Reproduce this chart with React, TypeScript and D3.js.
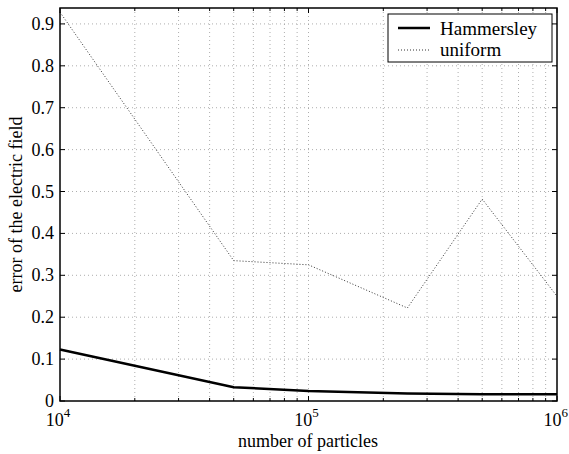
import React from "react";
import * as d3 from "d3";

const particles = [1e4, 5e4, 1e5, 2.5e5, 5e5, 1e6];
const hammersley = [0.123, 0.033, 0.024, 0.018, 0.016, 0.016];
const uniform = [0.928, 0.335, 0.325, 0.222, 0.482, 0.25];
const yTicks = [0, 0.1, 0.2, 0.3, 0.4, 0.5, 0.6, 0.7, 0.8, 0.9];
const xMajor = [1e4, 1e5, 1e6];
const seriesNames = ["Hammersley", "uniform"];

const W = 569, H = 454;
const L = 60, R = 557, T = 8, B = 401;
const TS = { fontFamily: "Liberation Serif" };

export default function App() {
  const x = d3.scaleLog().domain([1e4, 1e6]).range([L, R]);
  const y = d3.scaleLinear().domain([0, 0.938]).range([B, T]);
  const minor: number[] = [];
  for (let e = 4; e < 6; e++) for (let m = 2; m <= 9; m++) minor.push(m * Math.pow(10, e));
  const line = d3.line<number>().x((_, i) => x(particles[i])).y((d) => y(d));
  const gridStyle = { stroke: "#999", strokeWidth: 0.8, strokeDasharray: "1,3" };
  return (
    <svg width={W} height={H} style={{ position: "absolute", left: 0, top: 0, background: "#fff" }}>
      <rect x={0} y={0} width={W} height={H} fill="#fff" />
      {yTicks.slice(1).map((t) => (
        <line key={"gy" + t} x1={L} x2={R} y1={y(t)} y2={y(t)} {...gridStyle} />
      ))}
      {[...minor, 1e5].map((t) => (
        <line key={"gx" + t} x1={x(t)} x2={x(t)} y1={T} y2={B} {...gridStyle} />
      ))}
      {yTicks.map((t) => (
        <g key={"ty" + t}>
          <line x1={L} x2={L + 5} y1={y(t)} y2={y(t)} stroke="#000" strokeWidth={1} />
          <line x1={R} x2={R - 5} y1={y(t)} y2={y(t)} stroke="#000" strokeWidth={1} />
          <text x={L - 6} y={y(t) + 6} fontSize={18} textAnchor="end" style={TS}>{t === 0 ? "0" : d3.format(".1f")(t)}</text>
        </g>
      ))}
      {[...minor, ...xMajor].map((t) => {
        const len = xMajor.includes(t) ? 5 : 3;
        return (
          <g key={"tx" + t}>
            <line x1={x(t)} x2={x(t)} y1={B} y2={B - len} stroke="#000" strokeWidth={1} />
            <line x1={x(t)} x2={x(t)} y1={T} y2={T + len} stroke="#000" strokeWidth={1} />
          </g>
        );
      })}
      {xMajor.map((t, i) => (
        <text key={"lx" + t} x={i === 2 ? 568 : x(t) - 2} y={426} fontSize={18} textAnchor={i === 2 ? "end" : "middle"} style={TS}>
          10<tspan dy={-9} fontSize={13}>{Math.round(Math.log10(t))}</tspan>
        </text>
      ))}
      <path d={line(uniform) || ""} fill="none" stroke="#333" strokeWidth={1} strokeDasharray="1,2" />
      <path d={line(hammersley) || ""} fill="none" stroke="#000" strokeWidth={2.5} />
      <rect x={L} y={T} width={R - L} height={B - T} fill="none" stroke="#000" strokeWidth={1.5} />
      <rect x={388} y={14} width={164} height={48} fill="#fff" stroke="#000" strokeWidth={1} />
      <line x1={398} x2={430} y1={28} y2={28} stroke="#000" strokeWidth={2.5} />
      <line x1={398} x2={430} y1={50} y2={50} stroke="#333" strokeWidth={1} strokeDasharray="1,2" />
      <text x={440} y={35} fontSize={19} style={TS}>{seriesNames[0]}</text>
      <text x={440} y={56} fontSize={19} style={TS}>{seriesNames[1]}</text>
      <text x={308} y={447} fontSize={18} textAnchor="middle" style={TS}>number of particles</text>
      <text transform={`translate(22,${(T + B) / 2}) rotate(-90)`} fontSize={18} textAnchor="middle" style={TS}>error of the electric field</text>
    </svg>
  );
}
